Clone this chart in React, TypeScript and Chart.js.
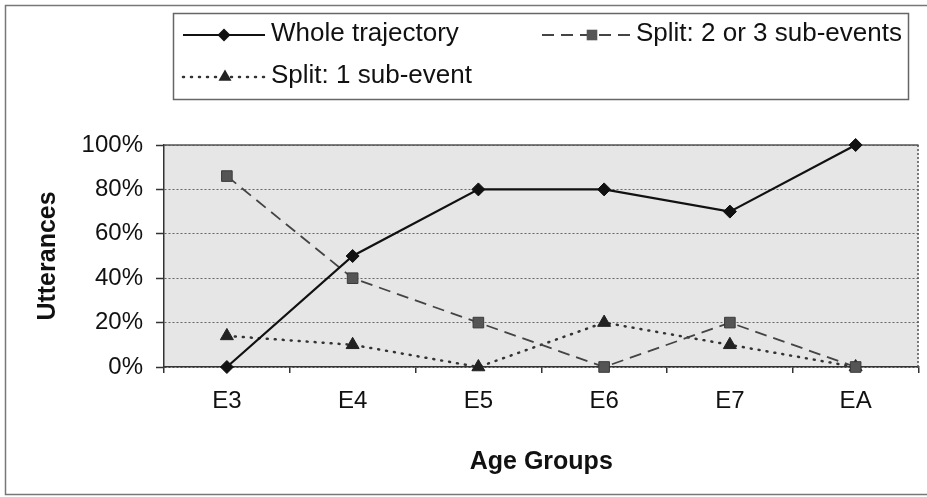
import React, { useEffect, useRef } from "react";
import { Chart, registerables } from "chart.js";

Chart.register(...registerables);

const categories = ["E3", "E4", "E5", "E6", "E7", "EA"];
const wholeTrajectory = [0, 50, 80, 80, 70, 100];
const splitTwoOrThree = [86, 40, 20, 0, 20, 0];
const splitOne = [14, 10, 0, 20, 10, 0];
const seriesLabels = ["Whole trajectory", "Split: 2 or 3 sub-events", "Split: 1 sub-event"];
const yTicks = [0, 20, 40, 60, 80, 100];
const yTitle = "Utterances";
const xTitle = "Age Groups";

const FONT = "'Liberation Sans', Arial, sans-serif";

function drawMarker(ctx: CanvasRenderingContext2D, style: string, x: number, y: number, r: number, fill: string) {
  ctx.save();
  ctx.fillStyle = fill;
  ctx.setLineDash([]);
  ctx.beginPath();
  if (style === "rectRot") {
    ctx.moveTo(x, y - r);
    ctx.lineTo(x + r, y);
    ctx.lineTo(x, y + r);
    ctx.lineTo(x - r, y);
    ctx.closePath();
  } else if (style === "rect") {
    const s = r * Math.SQRT1_2;
    ctx.rect(x - s, y - s, 2 * s, 2 * s);
  } else {
    ctx.moveTo(x, y - r);
    ctx.lineTo(x + r * 0.866, y + r / 2);
    ctx.lineTo(x - r * 0.866, y + r / 2);
    ctx.closePath();
  }
  ctx.fill();
  ctx.restore();
}

const framePlugin = {
  id: "framePlugin",
  beforeDraw(chart: any) {
    const { ctx, chartArea } = chart;
    ctx.save();
    ctx.strokeStyle = "#777";
    ctx.lineWidth = 1.5;
    ctx.strokeRect(5.5, 5.5, 940, 489);
    ctx.fillStyle = "#e6e6e6";
    ctx.fillRect(chartArea.left, chartArea.top, chartArea.right - chartArea.left, chartArea.bottom - chartArea.top);
    ctx.restore();
  },
  beforeDatasetsDraw(chart: any) {
    const { ctx, chartArea } = chart;
    ctx.save();
    ctx.strokeStyle = "#555";
    ctx.lineWidth = 1.5;
    ctx.beginPath();
    ctx.moveTo(chartArea.left, chartArea.top);
    ctx.lineTo(chartArea.right, chartArea.top);
    ctx.stroke();
    ctx.setLineDash([2, 2]);
    ctx.beginPath();
    ctx.moveTo(chartArea.right - 0.5, chartArea.top);
    ctx.lineTo(chartArea.right - 0.5, chartArea.bottom);
    ctx.stroke();
    ctx.restore();
  },
  afterDraw(chart: any) {
    const { ctx } = chart;
    ctx.save();
    ctx.fillStyle = "#ffffff";
    ctx.fillRect(173.5, 13.5, 735, 86);
    ctx.strokeStyle = "#666";
    ctx.lineWidth = 1.5;
    ctx.strokeRect(173.5, 13.5, 735, 86);

    const ds = chart.data.datasets;
    const items = [
      { x0: 183, x1: 265, mx: 224, y: 35, tx: 271 },
      { x0: 542, x1: 632, mx: 592, y: 35, tx: 636 },
      { x0: 183, x1: 265, mx: 225, y: 77, tx: 271 },
    ];
    items.forEach((it, i) => {
      const d = ds[i];
      ctx.save();
      ctx.strokeStyle = d.borderColor;
      ctx.lineWidth = d.borderWidth;
      ctx.setLineDash(d.borderDash || []);
      ctx.lineCap = d.borderCapStyle || "butt";
      ctx.beginPath();
      ctx.moveTo(it.x0, it.y);
      ctx.lineTo(it.x1, it.y);
      ctx.stroke();
      ctx.restore();
      drawMarker(ctx, d.pointStyle, it.mx, it.y, d.pointRadius, d.pointBackgroundColor);
      ctx.fillStyle = "#111";
      ctx.font = `26px ${FONT}`;
      ctx.textBaseline = "middle";
      ctx.textAlign = "left";
      ctx.fillText(d.label, it.tx, it.y - 1);
    });
    ctx.restore();
  },
};

export default function App() {
  const ref = useRef<HTMLCanvasElement | null>(null);

  useEffect(() => {
    document.body.style.margin = "0";
    const canvas = ref.current;
    if (!canvas) return;
    const chart = new Chart(canvas, {
      type: "line",
      data: {
        labels: categories,
        datasets: [
          {
            label: seriesLabels[0],
            data: wholeTrajectory,
            clip: false,
            borderColor: "#111",
            borderWidth: 2.2,
            pointStyle: "rectRot",
            pointRadius: 6.5,
            pointBackgroundColor: "#111",
            pointBorderColor: "#111",
            pointBorderWidth: 1,
          },
          {
            label: seriesLabels[1],
            data: splitTwoOrThree,
            clip: false,
            borderColor: "#444",
            borderWidth: 1.8,
            borderDash: [12, 7],
            pointStyle: "rect",
            pointRadius: 7.5,
            pointBackgroundColor: "#555",
            pointBorderColor: "#3a3a3a",
            pointBorderWidth: 1,
          },
          {
            label: seriesLabels[2],
            data: splitOne,
            clip: false,
            borderColor: "#333",
            borderWidth: 2.5,
            borderDash: [1, 7],
            borderCapStyle: "round",
            pointStyle: "triangle",
            pointRadius: 7.5,
            pointBackgroundColor: "#222",
            pointBorderColor: "#222",
            pointBorderWidth: 1,
          },
        ] as any,
      },
      options: {
        responsive: false,
        animation: false,
        layout: { padding: { left: 33, top: 145, right: 6, bottom: 20 } },
        plugins: {
          legend: { display: false },
          tooltip: { enabled: false },
        },
        scales: {
          x: {
            offset: true,
            grid: {
              display: true,
              offset: true,
              drawOnChartArea: false,
              drawTicks: true,
              tickLength: 6,
              tickColor: "#333",
              lineWidth: 1.5,
            },
            border: { display: true, color: "#333", width: 1.5 },
            ticks: {
              color: "#111",
              padding: 14,
              font: { family: FONT, size: 24 },
            },
            title: {
              display: true,
              text: xTitle,
              color: "#111",
              padding: { top: 0, bottom: 0 },
              font: { family: FONT, size: 25, weight: "bold" },
            },
            afterFit(scale: any) {
              scale.height = 110;
            },
          },
          y: {
            min: 0,
            max: 100,
            afterBuildTicks(scale: any) {
              scale.ticks = yTicks.map((v) => ({ value: v }));
            },
            grid: {
              color: "#666",
              lineWidth: 1,
              drawTicks: true,
              tickLength: 8,
              tickColor: "#333",
              tickBorderDash: [],
              tickWidth: 1.5,
            },
            border: { display: true, color: "#333", width: 1.5, dash: [2, 2] },
            ticks: {
              color: "#111",
              padding: 13,
              font: { family: FONT, size: 24 },
              callback: (v: any) => `${v}%`,
            },
            title: {
              display: true,
              text: yTitle,
              color: "#111",
              padding: { top: 0, bottom: 0 },
              font: { family: FONT, size: 25, weight: "bold" },
            },
            afterFit(scale: any) {
              scale.width = 131;
            },
          },
        },
      },
      plugins: [framePlugin],
    } as any);
    return () => chart.destroy();
  }, []);

  return (
    <div style={{ width: 927, height: 497 }}>
      <canvas ref={ref} width={927} height={497} style={{ display: "block", width: 927, height: 497 }} />
    </div>
  );
}
